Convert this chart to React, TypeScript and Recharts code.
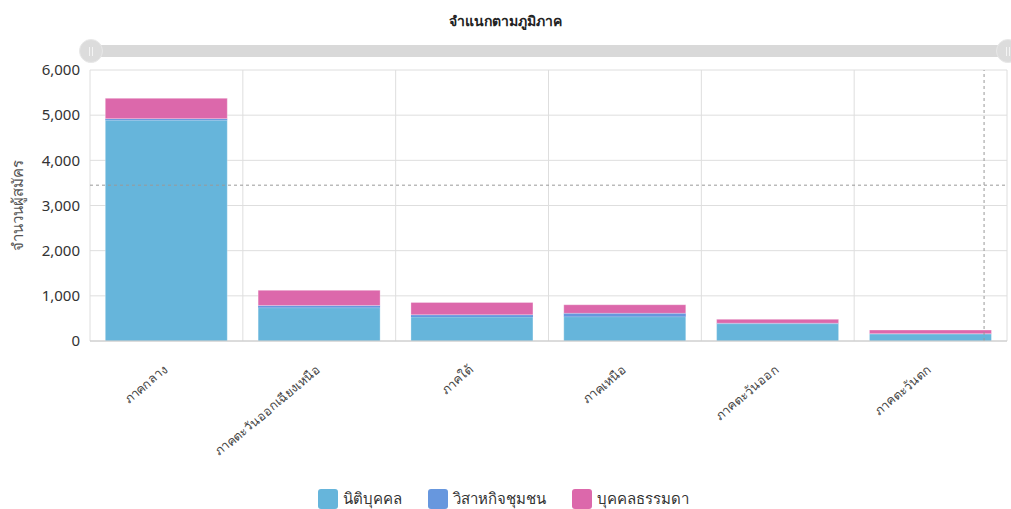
import React from "react";
import {
  BarChart,
  Bar,
  XAxis,
  YAxis,
  CartesianGrid,
  ReferenceLine,
  Legend,
} from "recharts";

const categories = [
  "ภาคกลาง",
  "ภาคตะวันออกเฉียงเหนือ",
  "ภาคใต้",
  "ภาคเหนือ",
  "ภาคตะวันออก",
  "ภาคตะวันตก",
];
const juristic = [4890, 737, 530, 538, 383, 155];
const community = [33, 50, 50, 75, 10, 8];
const individual = [450, 335, 275, 190, 87, 80];
const yTicks = [0, 1000, 2000, 3000, 4000, 5000, 6000];
const seriesNames = ["นิติบุคคล", "วิสาหกิจชุมชน", "บุคคลธรรมดา"];
const seriesColors = ["#66b5db", "#6797de", "#dc68ab"];
const title = "จำแนกตามภูมิภาค";
const yLabel = "จำนวนผู้สมัคร";
const cursorY = 3450;
const cursorX = 5.85;

const data = categories.map((c, i) => ({
  name: c,
  idx: i + 0.5,
  s0: juristic[i],
  s1: community[i],
  s2: individual[i],
}));

const FONT = "'Noto Sans', 'Open Sans', sans-serif";

const XTick = (props: any) => {
  const { x, y, payload } = props;
  return (
    <g transform={`translate(${x + 2},${y + 22})`}>
      <text
        textAnchor="end"
        transform="rotate(-40)"
        fontSize={12.5}
        fill="#444"
        fontFamily={FONT}
      >
        {payload.value}
      </text>
    </g>
  );
};

const LegendContent = () => (
  <div
    style={{
      display: "flex",
      justifyContent: "center",
      gap: 26,
      fontFamily: FONT,
      fontSize: 15,
      color: "#333",
    }}
  >
    {seriesNames.map((n, i) => (
      <div key={n} style={{ display: "flex", alignItems: "center" }}>
        <span
          style={{
            display: "inline-block",
            width: 20,
            height: 20,
            borderRadius: 3,
            background: seriesColors[i],
            marginRight: 5,
          }}
        />
        <span>{n}</span>
      </div>
    ))}
  </div>
);

const Handle = ({ left }: { left: number }) => (
  <div
    style={{
      position: "absolute",
      left: left - 12,
      top: 39,
      width: 22,
      height: 22,
      borderRadius: "50%",
      background: "#dcdcdc",
      border: "1px solid #e8e8e8",
      display: "flex",
      justifyContent: "center",
      alignItems: "center",
      gap: 2,
    }}
  >
    <span style={{ width: 1, height: 9, background: "#f4f4f4" }} />
    <span style={{ width: 1, height: 9, background: "#f4f4f4" }} />
  </div>
);

export default function App() {
  return (
    <div style={{ position: "relative", width: 1011, height: 509 }}>
      <style>{`body{margin:0;}`}</style>
      <div
        style={{
          position: "absolute",
          left: 0,
          top: 10,
          width: 1011,
          textAlign: "center",
          fontFamily: FONT,
          fontWeight: 700,
          fontSize: 14,
          color: "#222",
        }}
      >
        {title}
      </div>
      <div
        style={{
          position: "absolute",
          left: 90,
          top: 45,
          width: 917,
          height: 12,
          background: "#d9d9d9",
        }}
      />
      <Handle left={91} />
      <Handle left={1008} />
      <BarChart
        width={1011}
        height={509}
        data={data}
        margin={{ top: 70, right: 4, left: 0, bottom: 0 }}
        barCategoryGap="10%"
        style={{ fontFamily: FONT }}
      >
        <XAxis
          xAxisId="n"
          type="number"
          dataKey="idx"
          domain={[0, 6]}
          ticks={[0, 1, 2, 3, 4, 5, 6]}
          hide
        />
        <CartesianGrid
          xAxisId="n"
          stroke="#dedede"
          strokeDasharray=""
        />
        <XAxis
          dataKey="name"
          interval={0}
          tick={<XTick />}
          tickLine={false}
          axisLine={{ stroke: "#c8c8c8" }}
          height={144}
        />
        <YAxis
          domain={[0, 6000]}
          ticks={yTicks}
          width={90}
          tickSize={0}
          tickMargin={10}
          axisLine={false}
          tick={{ fontSize: 15, fill: "#333", fontFamily: FONT }}
          tickFormatter={(v: number) => v.toLocaleString("en-US")}
          label={{
            value: yLabel,
            angle: -90,
            position: "insideLeft",
            offset: 18,
            style: { fontSize: 15, fill: "#555", fontFamily: FONT, textAnchor: "middle", fontWeight: 400 },
          }}
        />
        <Bar dataKey="s0" name={seriesNames[0]} stackId="a" fill={seriesColors[0]} stroke="rgba(255,255,255,0.3)" isAnimationActive={false} />
        <Bar dataKey="s1" name={seriesNames[1]} stackId="a" fill={seriesColors[1]} isAnimationActive={false} />
        <Bar dataKey="s2" name={seriesNames[2]} stackId="a" fill={seriesColors[2]} stroke="rgba(255,255,255,0.3)" isAnimationActive={false} />
        <ReferenceLine y={cursorY} stroke="#999" strokeDasharray="3 3" />
        <ReferenceLine xAxisId="n" x={cursorX} stroke="#999" strokeDasharray="3 3" />
        <Legend
          content={<LegendContent />}
          verticalAlign="bottom"
          wrapperStyle={{ bottom: -2 }}
        />
      </BarChart>
    </div>
  );
}
